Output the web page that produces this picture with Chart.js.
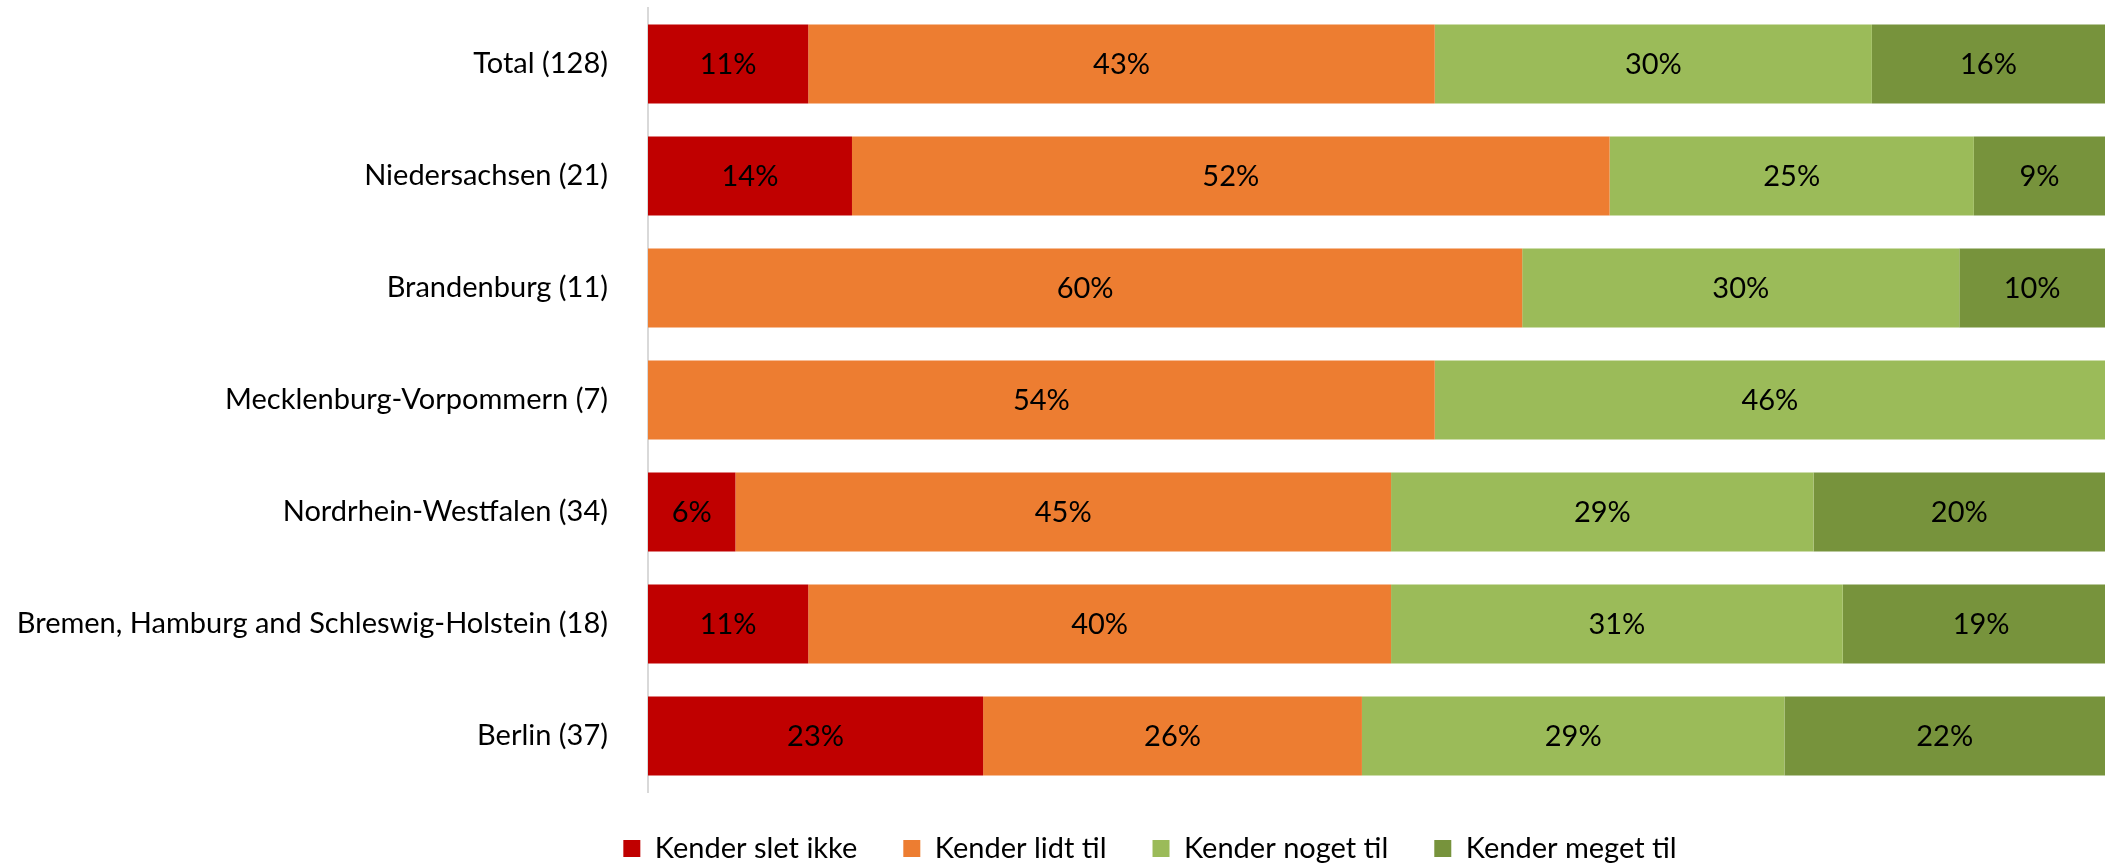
<!DOCTYPE html>
<html>
<head>
<meta charset="utf-8">
<script src="https://cdn.jsdelivr.net/npm/chart.js@4/dist/chart.umd.min.js"></script>
<style>
  html, body { margin: 0; padding: 0; background: #fff; }
  #wrap { width: 2105px; height: 865px; }
</style>
</head>
<body>
<div id="wrap"><canvas id="knowChart"></canvas></div>
<script>
// Data
const regions = [
  "Total (128)",
  "Niedersachsen (21)",
  "Brandenburg (11)",
  "Mecklenburg-Vorpommern (7)",
  "Nordrhein-Westfalen (34)",
  "Bremen, Hamburg and Schleswig-Holstein (18)",
  "Berlin (37)",
];
const sletIkke = [11, 14, 0, 0, 6, 11, 23];
const lidtTil = [43, 52, 60, 54, 45, 40, 26];
const nogetTil = [30, 25, 30, 46, 29, 31, 29];
const megetTil = [16, 9, 10, 0, 20, 19, 22];

const seriesNames = ["Kender slet ikke", "Kender lidt til", "Kender noget til", "Kender meget til"];
const seriesColors = ["#C00000", "#ED7D31", "#9BBB59", "#77933C"];

const FONT = "Lato, 'Open Sans', sans-serif";

// draws the percent labels in the middle of each segment
const segmentLabels = {
  id: "segmentLabels",
  afterDatasetsDraw(chart) {
    const ctx = chart.ctx;
    ctx.save();
    ctx.font = "29px " + FONT;
    ctx.fillStyle = "#000";
    ctx.textAlign = "center";
    ctx.textBaseline = "middle";
    chart.data.datasets.forEach((ds, i) => {
      chart.getDatasetMeta(i).data.forEach((bar, j) => {
        const v = ds.data[j];
        if (!v) return;
        ctx.fillText(v + "%", (bar.x + bar.base) / 2, bar.y + 1);
      });
    });
    ctx.restore();
  },
};

// the legend sits a bit right of the canvas centre in the original
const legendShift = {
  id: "legendShift",
  afterLayout(chart) {
    const lg = chart.legend;
    if (!lg) return;
    lg.left = 195;
    lg.top -= 4;
  },
};

const ctx = document.getElementById("knowChart").getContext("2d");
new Chart(ctx, {
  type: "bar",
  data: {
    labels: regions,
    datasets: [sletIkke, lidtTil, nogetTil, megetTil].map((d, i) => ({
      label: seriesNames[i],
      data: d,
      backgroundColor: seriesColors[i],
      borderWidth: 0,
      categoryPercentage: 1,
      barPercentage: 0.705,
    })),
  },
  options: {
    indexAxis: "y",
    responsive: true,
    maintainAspectRatio: false,
    animation: false,
    layout: { padding: { left: 0, top: 8, right: 0, bottom: 0 } },
    scales: {
      x: {
        stacked: true,
        min: 0,
        max: 100,
        display: false,
      },
      y: {
        stacked: true,
        grid: { display: false },
        border: { display: true, color: "#d9d9d9", width: 2 },
        ticks: {
          color: "#000",
          padding: 32,
          font: { family: FONT, size: 29 },
        },
        afterFit(scale) {
          scale.width = 648;
          scale.paddingTop = 0;
          scale.paddingBottom = 0;
        },
      },
    },
    plugins: {
      legend: {
        position: "bottom",
        maxHeight: 73,
        labels: {
          color: "#000",
          boxWidth: 17,
          boxHeight: 17,
          padding: 46,
          font: { family: FONT, size: 29 },
        },
      },
      tooltip: { enabled: false },
    },
  },
  plugins: [segmentLabels, legendShift],
});
</script>
</body>
</html>
